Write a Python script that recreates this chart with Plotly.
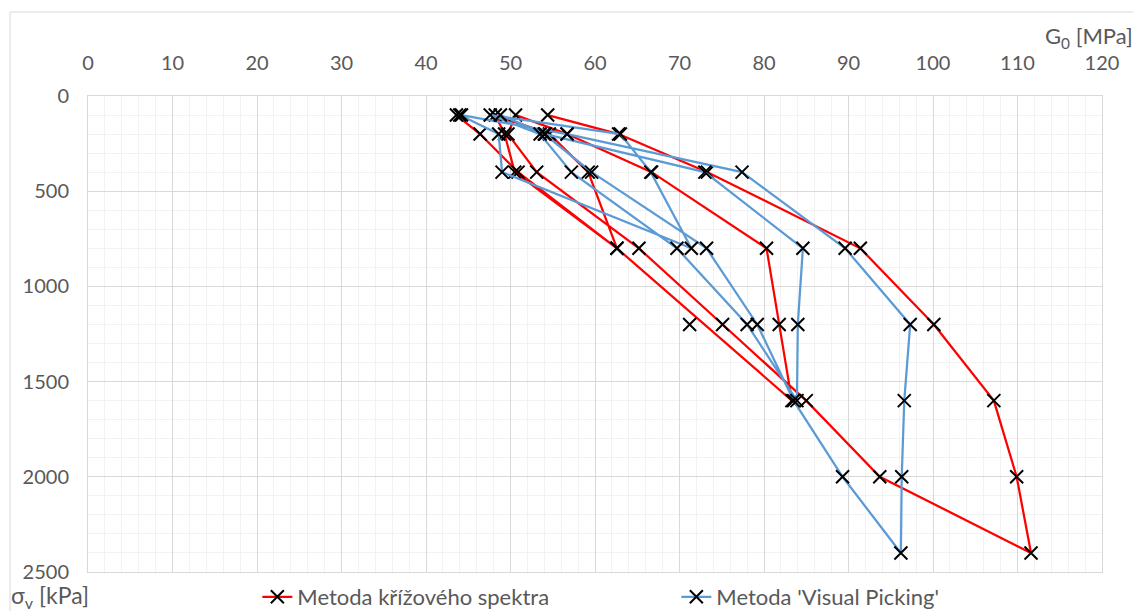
import plotly.graph_objects as go

# Metoda křížového spektra (red) - path in measurement order
red_G = [43.6, 46.4, 50.9, 62.6, 59.2, 54.6, 48.2, 49.3, 50.5, 62.6, 83.3, 81.8, 80.3,
         66.7, 56.7, 50.6, 49.7, 53.1, 65.2, 75.1, 85.0, 93.7, 111.6, 109.9, 107.2, 100.1,
         91.4, 73.3, 62.8, 54.4, None, 71.2]
red_S = [100, 200, 400, 800, 400, 200, 100, 200, 400, 800, 1600, 1200, 800,
         400, 200, 100, 200, 400, 800, 1200, 1600, 2000, 2400, 2000, 1600, 1200,
         800, 400, 200, 100, None, 1200]

# Metoda 'Visual Picking' (blue)
blue_G = [44.0, 48.6, 49.0, 71.4, 66.6, 63.0, 47.6, 53.5, 57.2, 69.7, 78.0, 83.9, 84.0, 84.6,
          73.0, 54.1, 48.8, 54.0, 59.6, 73.2, 79.2, 83.5, 89.3, 96.2, 96.3, 96.6, 97.3,
          89.6, 77.4, 56.7, 44.2]
blue_S = [100, 200, 400, 800, 400, 200, 100, 200, 400, 800, 1200, 1600, 1200, 800,
          400, 200, 100, 200, 400, 800, 1200, 1600, 2000, 2400, 2000, 1600, 1200,
          800, 400, 200, 100]

x_ticks = list(range(0, 121, 10))
y_ticks = list(range(0, 2501, 500))

fig = go.Figure()
marker = dict(symbol="x-thin", size=13, color="black", line=dict(width=2, color="black"))
fig.add_trace(go.Scatter(x=red_G, y=red_S, mode="lines+markers", name="Metoda křížového spektra",
                         line=dict(color="#FF0000", width=2.25), marker=marker))
fig.add_trace(go.Scatter(x=blue_G, y=blue_S, mode="lines+markers", name="Metoda 'Visual Picking'",
                         line=dict(color="#5B9BD5", width=2.25), marker=marker))

font = dict(family="Lato, Open Sans, sans-serif", size=20, color="#595959")
lfont = dict(family="Lato, Open Sans, sans-serif", size=22, color="#595959")
# page body has an 8px margin: the figure is sized/margined so the plot area lands at 88..1102 x 96..572
fig.update_layout(
    width=1133, height=603,
    margin=dict(l=80, r=39, t=88, b=39, autoexpand=False),
    paper_bgcolor="white", plot_bgcolor="white",
    font=font,
    showlegend=True,
    legend=dict(orientation="h", x=0.167, y=-0.0525, xanchor="left", yanchor="middle",
                font=lfont, entrywidth=374, bgcolor="rgba(0,0,0,0)"),
    xaxis=dict(side="top", range=[0, 120], tickvals=x_ticks, showgrid=True,
               gridcolor="#d9d9d9", gridwidth=1.3, zeroline=False,
               showline=True, linecolor="#d9d9d9", mirror=True,
               ticks="outside", ticklen=17, tickcolor="rgba(0,0,0,0)",
               minor=dict(dtick=2, showgrid=True, gridcolor="#f2f2f2", gridwidth=1.3),
               tickfont=font),
    yaxis=dict(range=[2500, 0], tickvals=y_ticks, showgrid=True,
               gridcolor="#d9d9d9", gridwidth=1.3, zeroline=False,
               showline=True, linecolor="#d9d9d9", mirror=True,
               ticks="outside", ticklen=14, tickcolor="rgba(0,0,0,0)",
               minor=dict(dtick=100, showgrid=True, gridcolor="#f2f2f2", gridwidth=1.3),
               tickfont=font),
    shapes=[dict(type="rect", xref="paper", yref="paper", x0=-0.0769, x1=1.045,
                 y0=-0.12, y1=1.1765, line=dict(color="#d9d9d9", width=1), layer="below")],
    annotations=[
        dict(text="G<sub>0</sub> [MPa]", xref="paper", yref="paper", x=1.0325, y=1.124,
             xanchor="right", yanchor="middle", showarrow=False, font=lfont),
        dict(text="σ<sub>v</sub> [kPa]", xref="paper", yref="paper", x=-0.0775, y=-0.0525,
             xanchor="left", yanchor="middle", showarrow=False,
             font=dict(family="Lato, Open Sans, sans-serif", size=23, color="#595959")),
    ],
)

fig.write_html("out.html")
